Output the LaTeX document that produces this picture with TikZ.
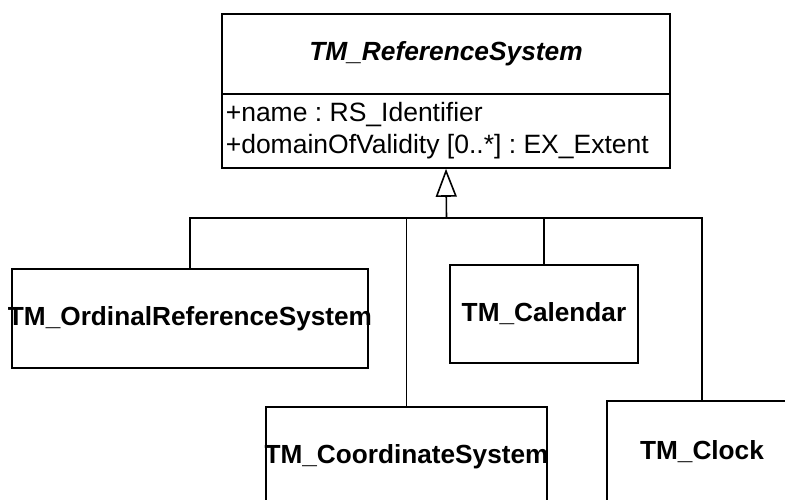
\documentclass[tikz,border=0pt]{standalone}
\usepackage{fontspec}
\setmainfont{Liberation Sans}
\usetikzlibrary{arrows.meta}
\frenchspacing
\newcommand{\overtext}[1]{\makebox[0pt]{#1}}
\begin{document}
\begin{tikzpicture}[x=1pt,y=-1pt, line width=1.6pt,
  box/.style={draw, rectangle, inner sep=0pt},
  cls/.style={box, font=\fontsize{26.2}{30}\selectfont\bfseries},
  attr/.style={inner sep=0pt, align=left, font=\fontsize{26.5}{32}\selectfont},
  gen/.style={-{Triangle[open,length=28pt,width=21pt]}}
  ]
\clip (0,0) rectangle (785,500);
% parent class
\node[cls, font=\fontsize{26.3}{30}\selectfont\bfseries\itshape, minimum width=448pt, minimum height=80pt] (refT) at (446,54) {TM\_ReferenceSystem};
\node[box, minimum width=448pt, minimum height=74pt] (refA) at (446,131) {};
\node[attr, anchor=west] (attrs) at (225,131) {+name : RS\_Identifier\\+domainOfValidity [0..*] : EX\_Extent};
% subclasses
\node[cls, minimum width=356pt, minimum height=99pt] (ord) at (190,318.5) {\overtext{TM\_OrdinalReferenceSystem}};
\node[cls, minimum width=188pt, minimum height=98pt] (cal) at (544,314) {TM\_Calendar};
\node[cls, minimum width=281pt, minimum height=99pt] (coo) at (406.5,456.5) {\overtext{TM\_CoordinateSystem}};
\node[cls, minimum width=190pt, minimum height=102pt] (clk) at (702,452) {TM\_Clock};
% generalization tree
\coordinate (bus) at (446.5,218);
\draw (ord.north) -- (ord.north |- bus) -- (clk.north |- bus) -- (clk.north);
\draw (coo.north) -- (coo.north |- bus);
\draw (cal.north) -- (cal.north |- bus);
\draw[gen] (bus) -- (refA.south);
\end{tikzpicture}
\end{document}
